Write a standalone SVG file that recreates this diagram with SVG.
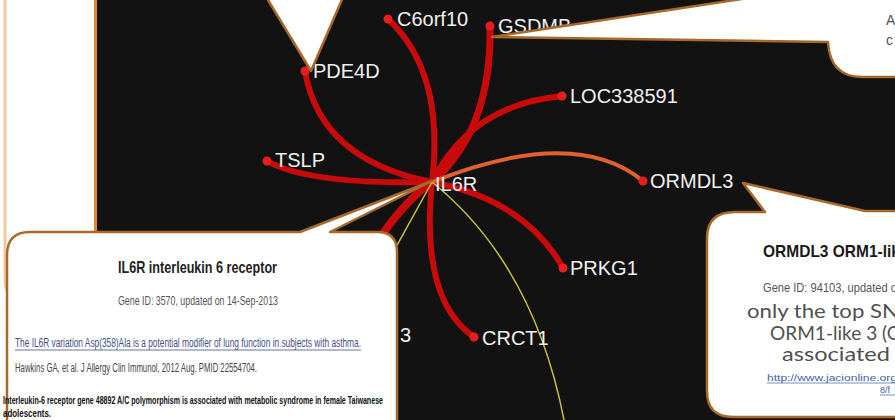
<svg xmlns="http://www.w3.org/2000/svg" width="895" height="420" viewBox="0 0 895 420">
<defs>
<style>
.edge{fill:none;stroke:#c80a0a;stroke-width:6;stroke-linecap:round}
.thin{fill:none;stroke:#c8c23c;stroke-width:1.5}
.dot{fill:#e61e1e}
.lbl{font-family:"Liberation Sans",Arial,sans-serif;font-size:20px;fill:#f0f0f0}
.callout{fill:#ffffff;stroke:#a9692a;stroke-width:2.5;stroke-linejoin:round}
.sans{font-family:"Liberation Sans",Arial,sans-serif}
.goth{font-family:"Lato","Open Sans",sans-serif;font-weight:400;fill:#505050}
</style>
</defs>
<rect width="895" height="420" fill="#ffffff"/>
<rect x="5" y="-20" width="200" height="318" rx="16" fill="#ffffff" stroke="#efca9c" stroke-width="3"/>
<rect x="96" y="-5" width="810" height="430" fill="#121212"/>
<line x1="95.5" y1="0" x2="95.5" y2="234" stroke="#e38b2c" stroke-width="3"/>

<g id="connectors">
<path class="edge" d="M432 182 Q405 200 375 245" style="stroke-width:8"/>
<path class="edge" d="M432 182 Q445 72 388 19"/>
<path class="edge" d="M432 182 Q492 130 490 26" style="stroke-width:7"/>
<path class="edge" d="M432 182 Q320 160 305 71"/>
<path class="edge" d="M432 182 Q470 105 562 96"/>
<path class="edge" d="M432 182 Q310 185 267 161"/>
<path class="edge" d="M432 182 Q525 200 563 268"/>
<path class="edge" d="M432 182 Q420 300 474 337"/>
<path d="M432 182 Q575 125 643 181" fill="none" stroke="#e2602e" stroke-width="4" stroke-linecap="round"/>
<path class="thin" d="M432 182 L390 258"/>
<path class="thin" d="M432 182 Q535 265 565 425"/>
</g>

<g id="node-C6orf10"><circle class="dot" cx="388" cy="19" r="4.5"/><text class="lbl" x="397" y="26">C6orf10</text></g>
<g id="node-GSDMB"><circle class="dot" cx="490" cy="26" r="4.5"/><text class="lbl" x="498" y="33">GSDMB</text></g>
<g id="node-PDE4D"><circle class="dot" cx="305" cy="71" r="4.5"/><text class="lbl" x="313" y="78">PDE4D</text></g>
<g id="node-LOC338591"><circle class="dot" cx="562" cy="96" r="4.5"/><text class="lbl" x="570" y="103">LOC338591</text></g>
<g id="node-TSLP"><circle class="dot" cx="267" cy="161" r="4.5"/><text class="lbl" x="275" y="167">TSLP</text></g>
<g id="node-IL6R"><text class="lbl" x="435" y="191">IL6R</text></g>
<g id="node-ORMDL3"><circle class="dot" cx="643" cy="181" r="4.5"/><text class="lbl" x="650" y="188">ORMDL3</text></g>
<g id="node-PRKG1"><circle class="dot" cx="563" cy="268" r="4.5"/><text class="lbl" x="570" y="275">PRKG1</text></g>
<g id="node-CRCT1"><circle class="dot" cx="474" cy="337" r="4.5"/><text class="lbl" x="482" y="345">CRCT1</text></g>
<g id="node-3"><text class="lbl" x="400" y="342">3</text></g>

<g id="callout-topleft">
<path class="callout" d="M265 -5 L311 71 L344 -5 Z"/>
</g>

<g id="callout-topright">
<path class="callout" d="M492 37 L828 42 Q830 77 862 77 L900 77 L900 -5 L768 -5 Z"/>
<text x="886" y="25" class="sans" font-size="14" fill="#555">A</text>
<text x="886" y="45" class="sans" font-size="14" fill="#555">c</text>
</g>

<g id="callout-ORMDL3">
<path class="callout" d="M735 212 L765 212 L743 183 L865 211 L900 211 L900 417 L733 417 Q707 417 707 391 L707 238 Q707 212 735 212 Z"/>
<text class="sans" x="763" y="257" font-size="17" font-weight="bold" fill="#1a1a1a" textLength="137" lengthAdjust="spacingAndGlyphs">ORMDL3 ORM1-lik</text>
<text class="sans" x="763" y="292" font-size="13" fill="#555" textLength="134" lengthAdjust="spacingAndGlyphs">Gene ID: 94103, updated o</text>
<text class="goth" x="747" y="318" font-size="19" textLength="152" lengthAdjust="spacingAndGlyphs">only the top SN</text>
<text class="goth" x="770" y="340" font-size="19" textLength="132" lengthAdjust="spacingAndGlyphs">ORM1-like 3 (O</text>
<text class="goth" x="782" y="361" font-size="19" textLength="108" lengthAdjust="spacingAndGlyphs">associated</text>
<text class="sans" x="767" y="381" font-size="9" fill="#3d5fa8" textLength="130" lengthAdjust="spacingAndGlyphs">http://www.jacionline.org</text>
<line x1="767" y1="383" x2="897" y2="383" stroke="#3d5fa8" stroke-width="0.7"/>
<text class="sans" x="880" y="393" font-size="9" fill="#3d5fa8">8/f</text>
<line x1="880" y1="395" x2="897" y2="395" stroke="#3d5fa8" stroke-width="0.7"/>
</g>

<g id="callout-IL6R">
<path class="callout" d="M30 232 L300 232 L432 181 L330 232 L377 232 Q397 232 397 252 L397 430 L7 430 L7 255 Q7 232 30 232 Z"/>
<text class="sans" x="118" y="273" font-size="17" font-weight="bold" fill="#222" textLength="159" lengthAdjust="spacingAndGlyphs">IL6R interleukin 6 receptor</text>
<text class="sans" x="118" y="305" font-size="13" fill="#555" textLength="160" lengthAdjust="spacingAndGlyphs">Gene ID: 3570, updated on 14-Sep-2013</text>
<text class="sans" x="15" y="347" font-size="12.5" fill="#3f4f86" textLength="346" lengthAdjust="spacingAndGlyphs">The IL6R variation Asp(358)Ala is a potential modifier of lung function in subjects with asthma.</text>
<line x1="15" y1="350" x2="361" y2="350" stroke="#3f4f86" stroke-width="0.8"/>
<text class="sans" x="15" y="372" font-size="12.5" fill="#444" textLength="242" lengthAdjust="spacingAndGlyphs">Hawkins GA, et al. J Allergy Clin Immunol, 2012 Aug. PMID 22554704.</text>
<text class="sans" x="3" y="404" font-size="10.5" font-weight="bold" fill="#111" textLength="380" lengthAdjust="spacingAndGlyphs">Interleukin-6 receptor gene 48892 A/C polymorphism is associated with metabolic syndrome in female Taiwanese</text>
<text class="sans" x="3" y="417" font-size="10.5" font-weight="bold" fill="#111" textLength="48" lengthAdjust="spacingAndGlyphs">adolescents.</text>
</g>
</svg>
